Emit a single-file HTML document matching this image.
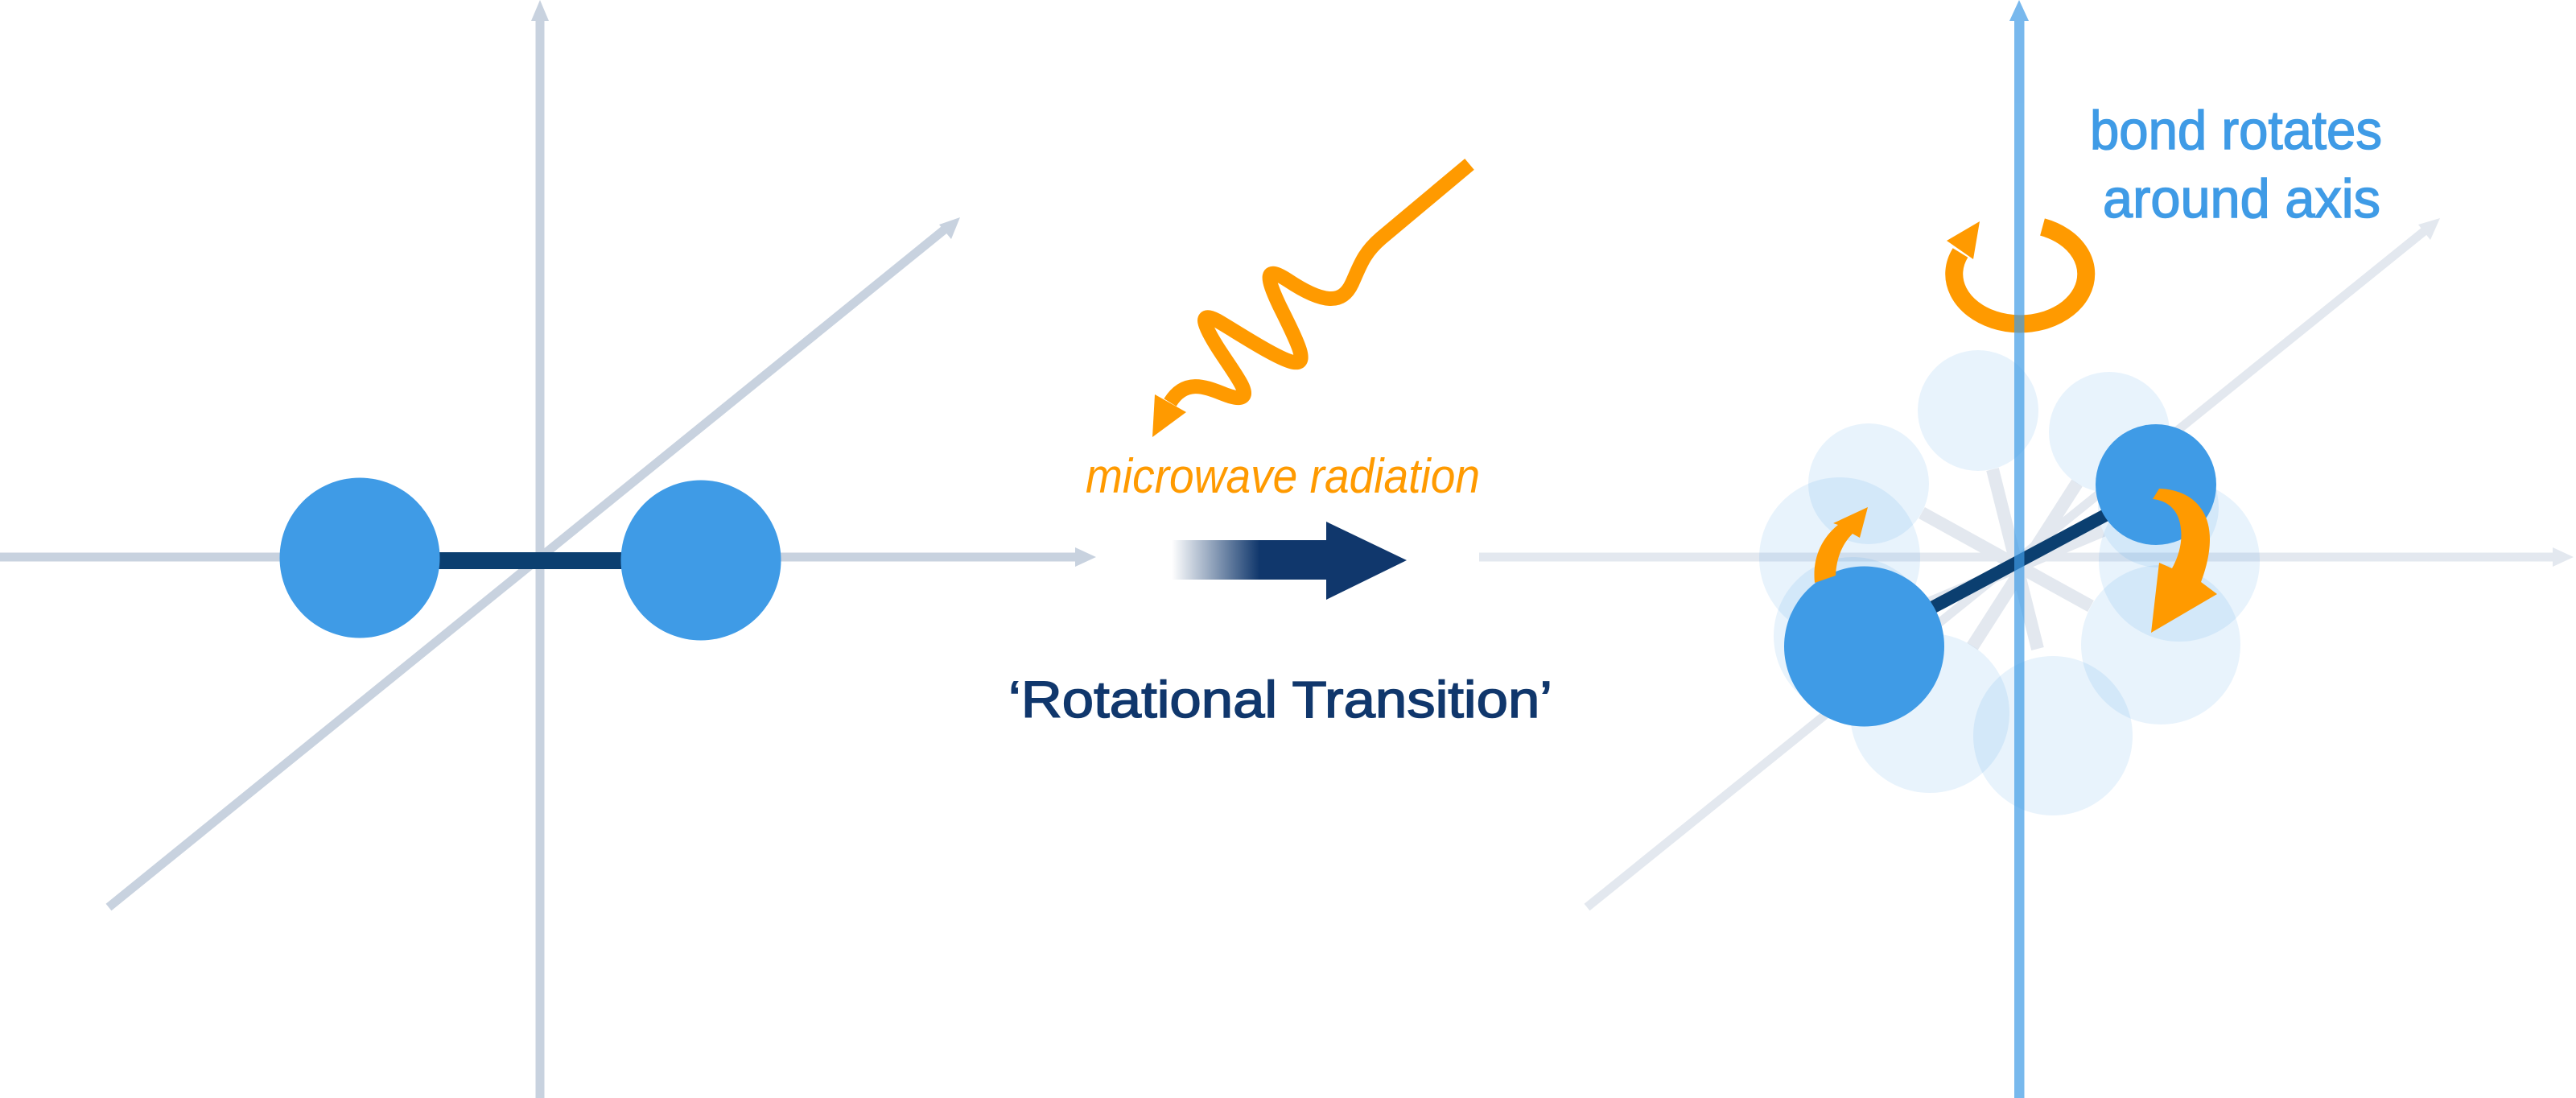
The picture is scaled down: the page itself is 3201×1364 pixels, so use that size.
<!DOCTYPE html>
<html><head><meta charset="utf-8"><style>html,body{margin:0;padding:0;background:#fff}svg{display:block}</style></head>
<body>
<svg width="3201" height="1364" viewBox="0 0 3201 1364" xmlns="http://www.w3.org/2000/svg">
<defs>
<linearGradient id="g" x1="1456" y1="0" x2="1565" y2="0" gradientUnits="userSpaceOnUse">
<stop offset="0" stop-color="#10376c" stop-opacity="0"/>
<stop offset="1" stop-color="#10376c" stop-opacity="1"/>
</linearGradient>
</defs>
<!-- LEFT PANEL -->
<g stroke="#c8d2df" stroke-width="11" fill="none">
<line x1="671" y1="1364" x2="671" y2="22"/>
<line x1="0" y1="692" x2="1342" y2="692"/>
<line x1="135" y1="1127" x2="1180" y2="280"/>
</g>
<g fill="#c8d2df">
<polygon points="671,0 660,26 682,26"/>
<polygon points="1362,692 1336,680 1336,704"/>
<polygon points="1193,270 1167,279 1182,297"/>
</g>
<rect x="540" y="686" width="240" height="21" fill="#0b3f70"/>
<circle cx="447" cy="693" r="99.5" fill="#3f9be6"/>
<circle cx="871" cy="696" r="99.5" fill="#3f9be6"/>

<!-- MIDDLE -->
<path d="M1826,204 L1716,296 C1694,315 1690,330 1680,352 C1668,378 1645,378 1600,348 C1572,330 1572,342 1590,380 C1616,432 1625,452 1608,450 C1590,448 1530,408 1512,398 C1492,388 1492,398 1512,430 C1532,462 1558,492 1540,494 C1520,496 1480,458 1454,500" fill="none" stroke="#ff9a00" stroke-width="18" stroke-linejoin="round"/>
<polygon points="1435,490 1432,543 1474,512" fill="#ff9a00"/>
<text x="1349" y="612" font-family="Liberation Sans, sans-serif" font-style="italic" font-size="60" fill="#ff9a00" textLength="490" lengthAdjust="spacingAndGlyphs">microwave radiation</text>
<rect x="1456" y="671" width="194" height="49" fill="url(#g)"/>
<polygon points="1648,648 1748,696 1648,745" fill="#10376c"/>
<text x="1253" y="891" font-family="Liberation Sans, sans-serif" font-size="64" fill="#10376c" stroke="#10376c" stroke-width="1.5" textLength="676" lengthAdjust="spacingAndGlyphs">‘Rotational Transition’</text>

<!-- RIGHT PANEL -->
<g stroke="#e3e8ef" stroke-width="11" fill="none">
<line x1="1838" y1="692" x2="3178" y2="692"/>
<line x1="1972" y1="1127" x2="3020" y2="281"/>
</g>
<g fill="#e3e8ef">
<polygon points="3198,692 3172,680 3172,704"/>
<polygon points="3032,271 3005,279 3020,298"/>
</g>
<g stroke="#e3e8ef" stroke-width="16">
<line x1="2476" y1="583" x2="2532" y2="806"/>
<line x1="2581" y1="600" x2="2451" y2="803"/>
<line x1="2388" y1="637" x2="2598" y2="753"/>
<line x1="2613" y1="659" x2="2392" y2="752"/>
</g>
<g fill="#3f9be6" fill-opacity="0.12">
<circle cx="2458" cy="510" r="75"/>
<circle cx="2621" cy="537" r="75"/>
<circle cx="2322" cy="601" r="75"/>
<circle cx="2286" cy="693" r="100"/>
<circle cx="2302" cy="790" r="98"/>
<circle cx="2398" cy="886" r="99"/>
<circle cx="2551" cy="914" r="99"/>
<circle cx="2685" cy="801" r="99"/>
<circle cx="2708" cy="697" r="100"/>
<circle cx="2682" cy="630" r="75"/>
</g>
<line x1="2395" y1="758" x2="2620" y2="638" stroke="#0b3f70" stroke-width="16"/>
<circle cx="2316.5" cy="803" r="99.5" fill="#3f9be6"/>
<circle cx="2679" cy="602" r="75" fill="#3f9be6"/>
<path d="M2255,724 C2252,695 2262,670 2284,652 L2278,650 L2321,630 L2311,668 L2302,663 C2290,675 2282,692 2281,715 Z" fill="#ff9a00"/>
<path d="M2675,620 L2683,607 C2720,608 2746,630 2746,670 C2746,690 2740,710 2735,723 L2755,738 L2673,786 L2683,699 L2699,706 C2708,690 2712,672 2710,657 C2708,635 2695,622 2675,620 Z" fill="#ff9a00"/>
<path d="M2538,282 A82,62 0 1 1 2436,314" fill="none" stroke="#ff9a00" stroke-width="22"/>
<polygon points="2419,299 2460,275 2452,322" fill="#ff9a00"/>
<g fill="#3f9be6" opacity="0.7">
<rect x="2503" y="22" width="12.5" height="1342"/>
<polygon points="2509,0 2497,26 2521,26"/>
</g>
<text x="2597" y="185" font-family="Liberation Sans, sans-serif" font-size="68" fill="#3f9be6" stroke="#3f9be6" stroke-width="1.5" textLength="363" lengthAdjust="spacingAndGlyphs">bond rotates</text>
<text x="2613" y="270" font-family="Liberation Sans, sans-serif" font-size="68" fill="#3f9be6" stroke="#3f9be6" stroke-width="1.5" textLength="345" lengthAdjust="spacingAndGlyphs">around axis</text>
</svg>
</body></html>
